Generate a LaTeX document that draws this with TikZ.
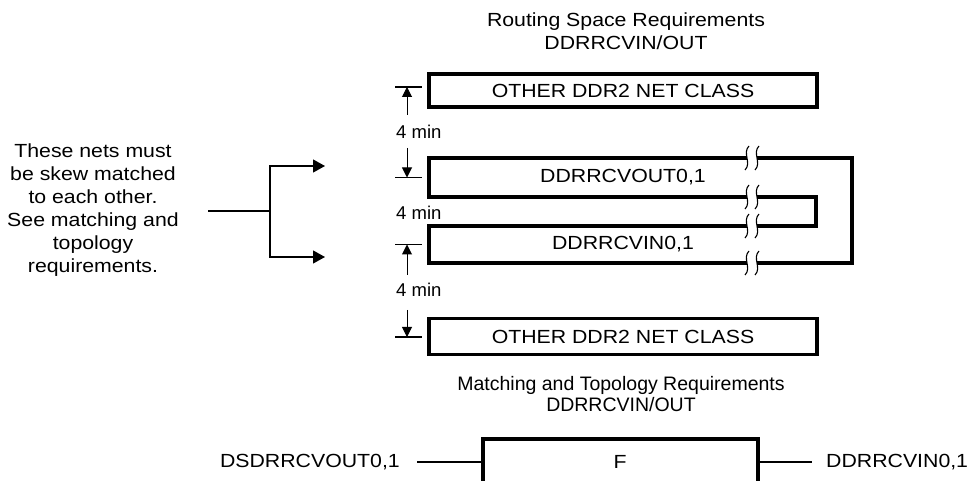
\documentclass[tikz,border=0pt]{standalone}
\usepackage{fontspec}
\setmainfont{Liberation Sans}
\newfontfamily\widesans{Liberation Sans}[FakeStretch=1.12]
\usetikzlibrary{arrows.meta}

\begin{document}
\begin{tikzpicture}[x=1pt,y=-1pt,
  lbl/.style={font=\widesans\fontsize{19}{23}\selectfont, inner sep=0pt},
  gaplbl/.style={font=\fontsize{18.5}{23}\selectfont, inner sep=0pt, anchor=west},
  netbox/.style={draw, line width=3.2pt, minimum width=388pt, lbl},
  trace/.style={line width=3.2pt},
  wire/.style={line width=1.1pt},
  dim/.style={line width=1pt, -{Triangle[length=10pt,width=10pt]}},
  fan/.style={line width=1.2pt, -{Triangle[length=12pt,width=13pt]}}]
\useasboundingbox (0,0) rectangle (970,481);

% routing space
\node[lbl, align=center] (routeTitle) at (626,31) {Routing Space Requirements\\DDRRCVIN/OUT};
\node[netbox, minimum height=33pt] (otherTop) at (623,90.5) {OTHER DDR2 NET CLASS};
\node[netbox, minimum height=36pt] (otherBot) at (623,336.5) {OTHER DDR2 NET CLASS};
\node[lbl] (outLbl) at (623,177.5) {DDRRCVOUT0,1};
\node[lbl] (inLbl) at (623,244.5) {DDRRCVIN0,1};
\draw[trace] (747,158) -- (429,158) -- (429,197) -- (747,197);
\draw[trace] (757,158) -- (852,158) -- (852,263) -- (757,263);
\draw[trace] (757,197) -- (816,197) -- (816,226) -- (757,226);
\draw[trace] (747,226) -- (429,226) -- (429,263) -- (747,263);
\foreach \y in {158,197,226,263}
  \foreach \x in {747,757}
    \draw[wire] (\x+2,\y-12) .. controls (\x-5,\y-5) and (\x+5,\y+5) .. (\x-2,\y+12);

% spacing marks
\foreach \y in {87,177.5,244.5,337} \draw[wire] (395,\y) -- (422,\y);
\node[gaplbl] (gapA) at (396,132) {4 min};
\node[gaplbl] (gapB) at (396,213) {4 min};
\node[gaplbl] (gapC) at (396,290) {4 min};
\draw[dim] (407,115) -- (407,87);
\draw[dim] (407,148) -- (407,177.5);
\draw[dim] (407,275) -- (407,244.5);
\draw[dim] (407,310) -- (407,337);

% note on the left
\node[lbl, align=center] (note) at (93,210) {These nets must\\be skew matched\\to each other.\\See matching and\\topology\\requirements.};
\coordinate (feed) at (208,211);
\coordinate (fork) at (270,211);
\coordinate (toOut) at (325,166);
\coordinate (toIn) at (325,257);
\draw[wire] (feed) -- (fork);
\draw[fan] (fork) |- (toOut);
\draw[fan] (fork) |- (toIn);

% matching and topology
\node[font=\fontsize{19.5}{20.5}\selectfont, align=center, inner sep=0pt] (matchTitle) at (621,394) {Matching and Topology Requirements\\DDRRCVIN/OUT};
\draw[trace] (483,484) -- (483,439) -- (758,439) -- (758,484);
\node[lbl] (fLbl) at (620,462) {F};
\node[lbl, anchor=east] (srcLbl) at (400,462) {DSDRRCVOUT0,1};
\node[lbl, anchor=west] (dstLbl) at (826,462) {DDRRCVIN0,1};
\coordinate (fIn) at (483,462);
\coordinate (fOut) at (758,462);
\draw[wire] ([xshift=17pt]srcLbl.east) -- (fIn);
\draw[wire] (fOut) -- ([xshift=-14pt]dstLbl.west);
\end{tikzpicture}
\end{document}
